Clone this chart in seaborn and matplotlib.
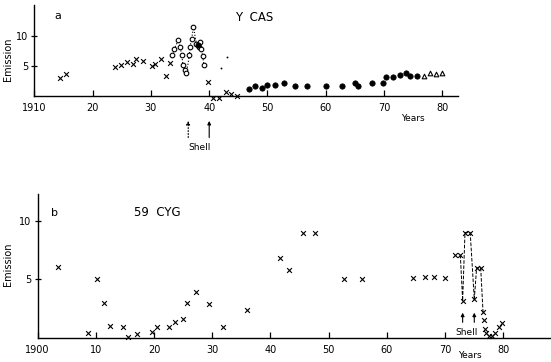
import matplotlib
matplotlib.use("Agg")
import matplotlib.pyplot as plt
import seaborn as sns
import pandas as pd

sns.set_theme(style="white")
plt.rcParams['font.family'] = ['DejaVu Sans']

# ---- Panel a: Y CAS ----
a_cross_year = [1914.4, 1915.5, 1923.8, 1924.8, 1925.9, 1926.9, 1927.5, 1928.7, 1930.1, 1930.7,
                1931.7, 1932.5, 1933.3, 1939.8, 1940.7, 1941.6, 1942.9, 1943.8, 1944.8]
a_cross_val = [3.0, 3.6, 4.8, 5.1, 5.7, 5.4, 6.2, 5.8, 5.0, 5.3,
               6.1, 3.3, 5.5, 2.4, -0.3, -0.3, 0.6, 0.3, 0.0]
a_open_year = [1933.7, 1934.0, 1934.7, 1935.0, 1935.3, 1935.5, 1935.8, 1936.1, 1936.6, 1936.7,
               1937.0, 1937.3, 1937.8, 1938.2, 1938.4, 1938.6, 1938.9, 1939.1]
a_open_val = [6.8, 7.9, 9.3, 8.2, 6.8, 5.1, 4.3, 3.8, 6.8, 8.2,
              9.6, 11.6, 8.7, 8.2, 9.0, 7.9, 6.6, 5.1]
a_fill_year = [1938.1, 1946.9, 1947.8, 1949.0, 1949.9, 1951.3, 1952.8, 1954.7, 1956.7, 1960.0,
               1962.8, 1965.0, 1965.6, 1967.9, 1969.8, 1970.3, 1971.6, 1972.7, 1973.7, 1974.5, 1975.6]
a_fill_val = [8.5, 1.2, 1.6, 1.4, 1.9, 1.9, 2.2, 1.7, 1.7, 1.7,
              1.7, 2.1, 1.7, 2.1, 2.1, 3.2, 3.1, 3.5, 3.9, 3.3, 3.3]
a_tri_year = [1976.9, 1977.9, 1978.9, 1979.9]
a_tri_val = [3.3, 3.8, 3.7, 3.8]
a_dot_year = [1942.0, 1943.0]
a_dot_val = [4.6, 6.5]
a_xticks = [1910, 1920, 1930, 1940, 1950, 1960, 1970, 1980]
a_xticklabels = ['1910', '20', '30', '40', '50', '60', '70', '80']

# ---- Panel b: 59 CYG ----
b_year = [1903.6, 1908.6, 1910.3, 1911.5, 1912.4, 1914.6, 1915.6, 1917.0, 1919.6, 1920.6,
          1922.6, 1923.6, 1924.9, 1925.6, 1927.3, 1929.5, 1931.8, 1935.9, 1941.6, 1943.1,
          1945.6, 1947.7, 1952.6, 1955.7, 1964.4, 1966.6, 1968.0, 1969.9, 1971.7, 1972.6,
          1973.0, 1973.4, 1974.3, 1975.0, 1975.4, 1976.1, 1976.5, 1976.6, 1976.9, 1977.0,
          1977.6, 1978.0, 1978.6, 1979.2, 1979.7]
b_val = [6.1, 0.4, 5.0, 3.0, 1.05, 0.9, 0.06, 0.34, 0.5, 0.9,
         0.9, 1.4, 1.6, 3.0, 3.9, 2.9, 0.9, 2.4, 6.8, 5.8,
         9.0, 9.0, 5.0, 5.0, 5.1, 5.2, 5.2, 5.1, 7.1, 7.1,
         3.2, 9.0, 9.0, 3.3, 6.0, 6.0, 2.2, 1.5, 0.8, 0.45,
         0.17, 0.17, 0.4, 0.9, 1.3]
b_dash_year = [1972.6, 1973.0, 1973.4, 1974.3, 1975.0, 1975.4, 1976.1, 1976.5]
b_dash_val = [7.1, 3.2, 9.0, 9.0, 3.3, 6.0, 6.0, 2.2]
b_xticks = [1900, 1910, 1920, 1930, 1940, 1950, 1960, 1970, 1980]
b_xticklabels = ['1900', '10', '20', '30', '40', '50', '60', '70', '80']

W, H = 551, 362
fig = plt.figure(figsize=(W / 100, H / 100), dpi=100)

def frac(x0, y0, x1, y1):
    return [x0 / W, 1 - y1 / H, (x1 - x0) / W, (y1 - y0) / H]

fs = 7
axa = fig.add_axes(frac(34.4, 5, 458, 96))
axb = fig.add_axes(frac(37.5, 194, 550, 338))

for ax in (axa, axb):
    ax.set_facecolor('white')
    for s in ('top', 'right'):
        ax.spines[s].set_visible(False)
    for s in ('left', 'bottom'):
        ax.spines[s].set_color('black')
        ax.spines[s].set_linewidth(1.0)
    ax.tick_params(axis='x', direction='in', length=4, width=0.9, colors='black',
                   labelsize=fs, pad=5, bottom=True)
    ax.tick_params(axis='y', direction='inout', length=5, width=0.9, colors='black',
                   labelsize=fs, pad=2, left=True)
    ax.grid(False)

# panel a
sns.lineplot(x=a_open_year, y=a_open_val, ax=axa, color='black', linestyle=':',
             linewidth=0.8, sort=False, estimator=None)
sns.scatterplot(x=a_cross_year, y=a_cross_val, ax=axa, marker='x', s=12, color='black',
                linewidth=0.8, clip_on=False)
sns.scatterplot(x=a_open_year, y=a_open_val, ax=axa, marker='o', s=11, facecolor='white',
                edgecolor='black', linewidth=0.8, clip_on=False, zorder=3)
sns.scatterplot(x=a_fill_year, y=a_fill_val, ax=axa, marker='o', s=15, color='black',
                edgecolor='black', linewidth=0.5, clip_on=False, zorder=4)
sns.scatterplot(x=a_tri_year, y=a_tri_val, ax=axa, marker='^', s=11, facecolor='white',
                edgecolor='black', linewidth=0.8, clip_on=False)
sns.scatterplot(x=a_dot_year, y=a_dot_val, ax=axa, marker='o', s=2, color='black',
                clip_on=False)
axa.set_xlim(1910, 1982.7)
axa.set_ylim(0, 15.2)
axa.set_xticks(a_xticks)
axa.set_xticklabels(a_xticklabels)
axa.set_yticks([5, 10])
axa.set_yticklabels(['5', '10'])
axa.set_ylabel('Emission', fontsize=fs, color='black')
axa.yaxis.set_label_coords(-0.05, 0.40)
axa.set_xlabel('')
axa.text(1914.0, 13.4, 'a', fontsize=8, color='black', ha='center', va='center')
axa.text(1947.8, 13.1, 'Y  CAS', fontsize=8.5, color='black', ha='center', va='center')
axa.text(1974.9, -3.7, 'Years', fontsize=6.5, color='black', ha='center', va='center',
         clip_on=False)
axa.annotate('', xy=(1936.4, -3.7), xytext=(1936.4, -7.4), annotation_clip=False,
             arrowprops=dict(arrowstyle='-|>', color='black', lw=0.8, linestyle=':',
                             mutation_scale=5))
axa.annotate('', xy=(1940.0, -3.7), xytext=(1940.0, -7.4), annotation_clip=False,
             arrowprops=dict(arrowstyle='-|>', color='black', lw=0.8, mutation_scale=5))
axa.text(1938.4, -8.6, 'Shell', fontsize=6.5, color='black', ha='center', va='center',
         clip_on=False)

# panel b
sns.lineplot(x=b_dash_year, y=b_dash_val, ax=axb, color='black', linestyle='--',
             linewidth=0.7, sort=False, estimator=None)
sns.scatterplot(x=b_year, y=b_val, ax=axb, marker='x', s=12, color='black',
                linewidth=0.8, clip_on=False)
axb.set_xlim(1900, 1988.0)
axb.set_ylim(0, 12.3)
axb.set_xticks(b_xticks)
axb.set_xticklabels(b_xticklabels)
axb.set_yticks([5, 10])
axb.set_yticklabels(['5', '10'])
axb.set_ylabel('Emission', fontsize=fs, color='black')
axb.yaxis.set_label_coords(-0.048, 0.51)
axb.set_xlabel('')
axb.text(1903.0, 10.7, 'b', fontsize=8, color='black', ha='center', va='center')
axb.text(1920.5, 10.7, '59  CYG', fontsize=8.5, color='black', ha='center', va='center')
axb.text(1974.3, -1.5, 'Years', fontsize=6.5, color='black', ha='center', va='center',
         clip_on=False)
for xa in (1973.0, 1975.0):
    axb.annotate('', xy=(xa, 2.4), xytext=(xa, 1.1), annotation_clip=False,
                 arrowprops=dict(arrowstyle='-|>', color='black', lw=0.8, mutation_scale=5))
axb.text(1973.7, 0.45, 'Shell', fontsize=6.5, color='black', ha='center', va='center')

fig.savefig('out.png', dpi=100, facecolor='white')
